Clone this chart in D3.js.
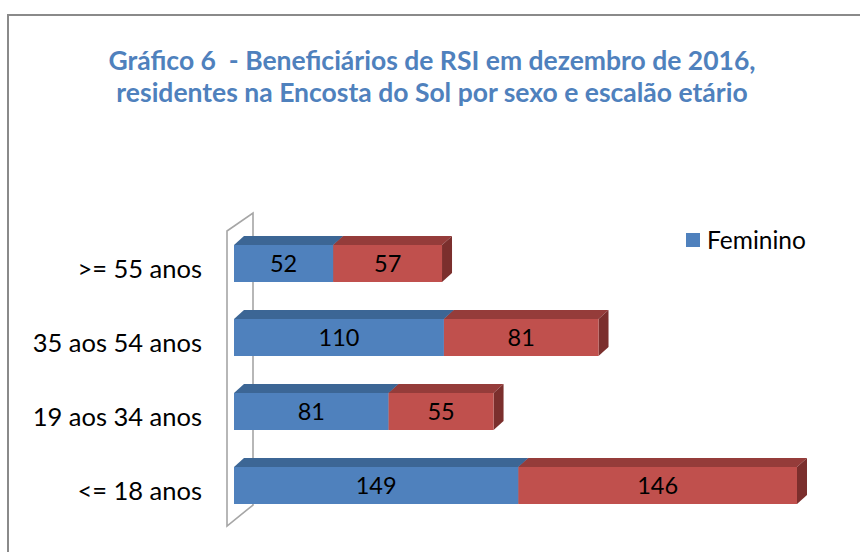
<!DOCTYPE html>
<html>
<head>
<meta charset="utf-8">
<script src="https://cdn.jsdelivr.net/npm/d3@7"></script>
<style>
  body { margin: 0; background: #fff; }
  svg { display: block; }
  text { font-family: Lato, "Open Sans", sans-serif; }
</style>
</head>
<body>
<svg id="chart" width="860" height="552"></svg>
<script>
// dados
const categorias = [">= 55 anos", "35 aos 54 anos", "19 aos 34 anos", "<= 18 anos"];
const feminino = [52, 110, 81, 149];
const masculino = [57, 81, 55, 146];
const series = ["Feminino", "Masculino"];
const titulo = ["Gráfico 6  - Beneficiários de RSI em dezembro de 2016,",
                "residentes na Encosta do Sol por sexo e escalão etário"];

const svg = d3.select("#chart");

// cores (frente, topo, lado)
const cores = {
  Feminino: { front: "#4f81bd", top: "#3c6695", side: "#2f5480" },
  Masculino: { front: "#c0504d", top: "#953c3a", side: "#7b2f2d" }
};

// moldura do gráfico (sai fora da imagem à direita e em baixo)
svg.append("rect")
  .attr("x", 8).attr("y", 15)
  .attr("width", 900).attr("height", 600)
  .attr("fill", "none")
  .attr("stroke", "#8a8a8a")
  .attr("stroke-width", 2);

// título
svg.append("g").selectAll("text")
  .data(titulo)
  .join("text")
  .attr("x", 432)
  .attr("y", (d, i) => 70 + i * 32)
  .attr("text-anchor", "middle")
  .attr("fill", "#4f81bd")
  .attr("font-weight", "bold")
  .attr("font-size", 26.5)
  .style("white-space", "pre")
  .text(d => d);

// escalas
const x = d3.scaleLinear().domain([0, 300]).range([234, 234 + 300 * 1.9085]);
const y = d3.scaleBand().domain(categorias).range([208, 541]).padding(0.5);
const dx = 10, dy = 9;   // profundidade 3D das barras

// parede do eixo (3D)
const wall = svg.append("g")
  .attr("fill", "none")
  .attr("stroke", "#a6a6a6")
  .attr("stroke-width", 1.6);
wall.append("path").attr("d", "M227,231 L253,213 L253,505 L227,526 Z");

// dados empilhados
const linhas = categorias.map((c, i) => ({ cat: c, Feminino: feminino[i], Masculino: masculino[i] }));
const stack = d3.stack().keys(series)(linhas);

const segs = [];
stack.forEach(s => s.forEach(d => segs.push({ key: s.key, cat: d.data.cat, x0: d[0], x1: d[1], v: d.data[s.key] })));

const barras = svg.append("g");
const g = barras.selectAll("g")
  .data(segs)
  .join("g");

// topo
g.append("path")
  .attr("fill", d => cores[d.key].top)
  .attr("d", d => {
    const a = x(d.x0), b = x(d.x1), t = y(d.cat);
    return `M${a},${t} L${a + dx},${t - dy} L${b + dx},${t - dy} L${b},${t} Z`;
  });

// lado
g.append("path")
  .attr("fill", d => cores[d.key].side)
  .attr("d", d => {
    const b = x(d.x1), t = y(d.cat), h = y.bandwidth();
    return `M${b},${t} L${b + dx},${t - dy} L${b + dx},${t + h - dy} L${b},${t + h} Z`;
  });

// frente
g.append("rect")
  .attr("x", d => x(d.x0))
  .attr("y", d => y(d.cat))
  .attr("width", d => x(d.x1) - x(d.x0))
  .attr("height", y.bandwidth())
  .attr("fill", d => cores[d.key].front);

// rótulos de dados
g.append("text")
  .attr("x", d => (x(d.x0) + x(d.x1)) / 2)
  .attr("y", d => y(d.cat) + y.bandwidth() / 2)
  .attr("dy", "0.36em")
  .attr("text-anchor", "middle")
  .attr("font-size", 23.5)
  .attr("fill", "#000")
  .text(d => d.v);

// rótulos das categorias
svg.append("g").selectAll("text")
  .data(categorias)
  .join("text")
  .attr("x", 202)
  .attr("y", d => y(d) + y.bandwidth() / 2 + 5)
  .attr("dy", "0.36em")
  .attr("text-anchor", "end")
  .attr("font-size", 25.5)
  .attr("fill", "#000")
  .text(d => d);

// legenda (só aparece "Feminino", o resto fica cortado)
const leg = svg.append("g").attr("transform", "translate(686,233)");
leg.append("rect").attr("width", 14).attr("height", 14).attr("fill", cores.Feminino.front);
leg.append("text")
  .attr("x", 21).attr("y", 7).attr("dy", "0.36em")
  .attr("font-size", 24.5)
  .text(series[0]);
</script>
</body>
</html>
